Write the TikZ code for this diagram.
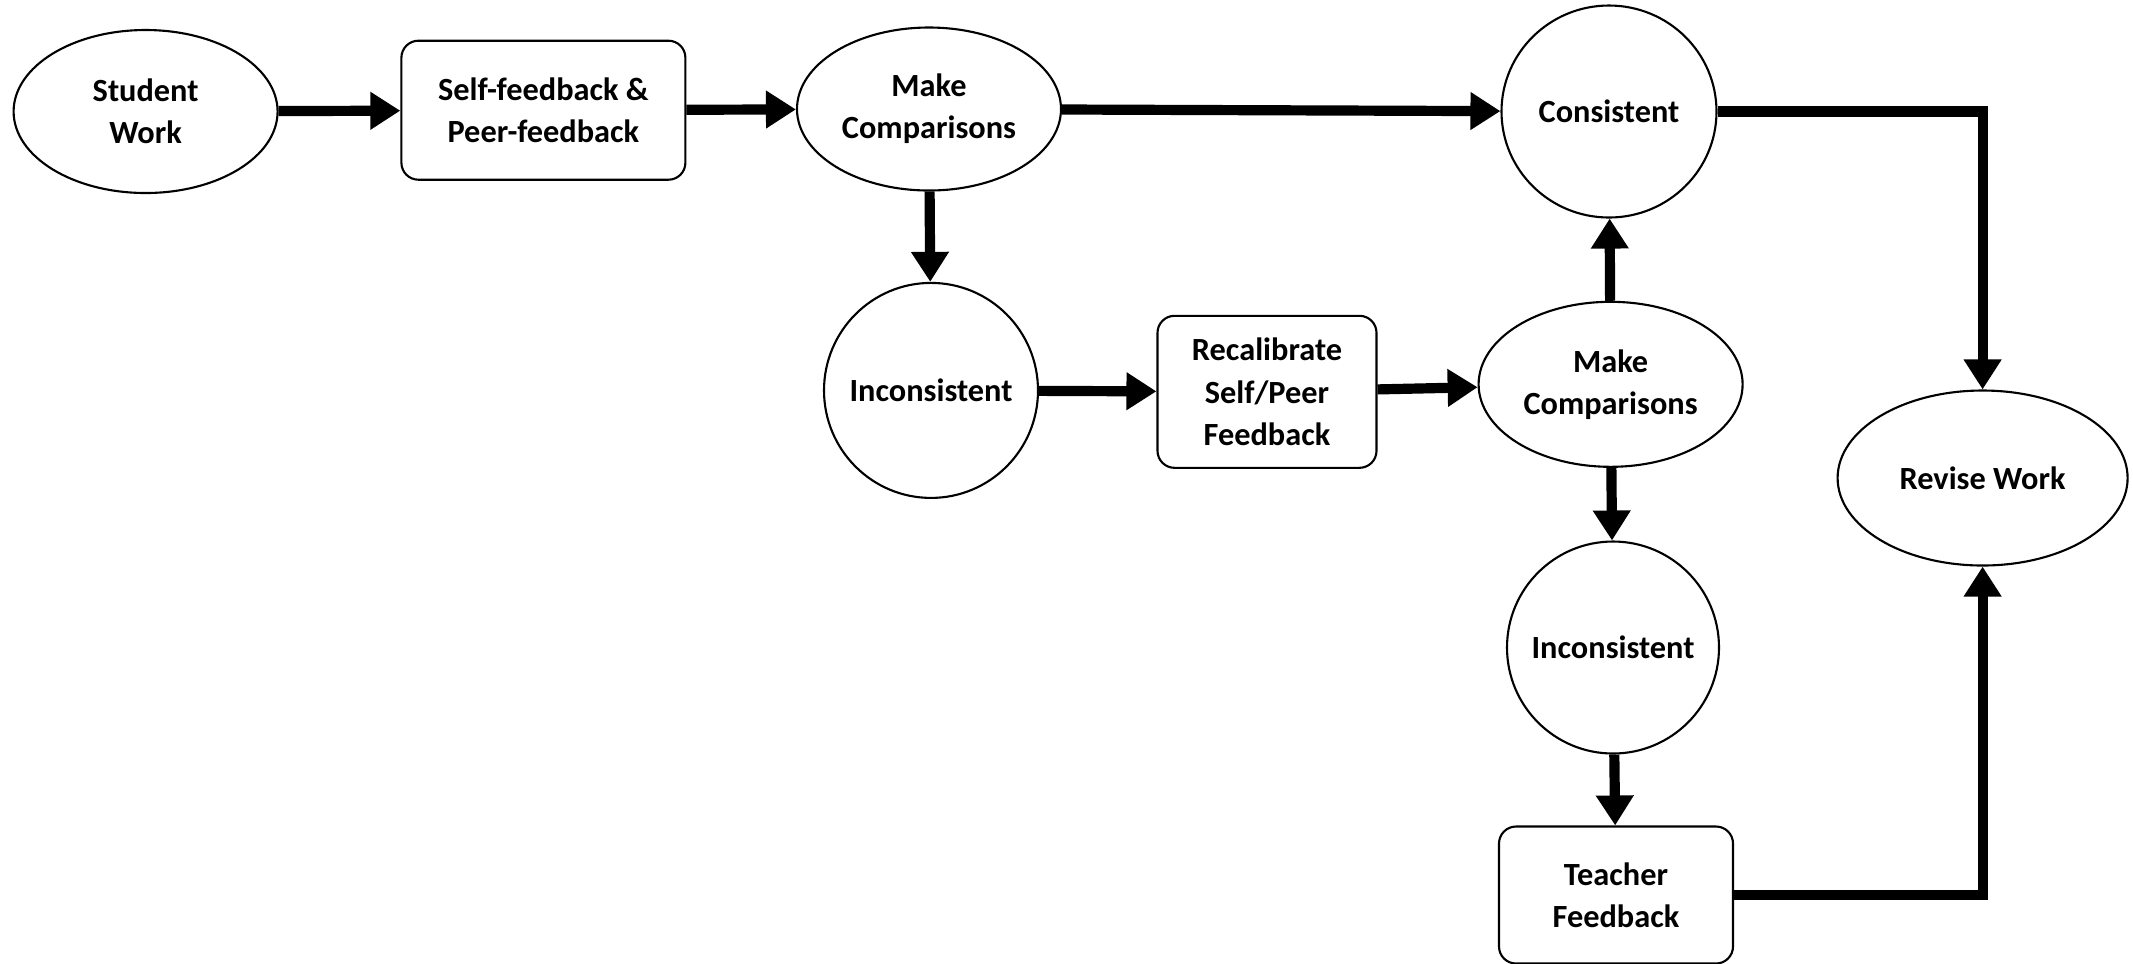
\documentclass[tikz,border=0pt]{standalone}
\usepackage{fontspec}
\setmainfont{Carlito}
\usepackage{tikz}
\usetikzlibrary{arrows}
\usetikzlibrary {arrows.meta}
\usetikzlibrary{shapes.geometric,positioning}

\begin{document}
\begin{tikzpicture}[font=\fontsize{9.2}{12}\selectfont\bfseries]
		\useasboundingbox (0,0) rectangle (21.33,-9.63);
		\tikzset{oval/.style={ellipse,draw,line width=0.6pt,inner sep=0pt,inner xsep=-0.1cm,align=center},
			box/.style={rectangle,rounded corners=0.17cm,draw,line width=0.6pt,inner sep=0pt,align=center}}

		\begin{scope}
			\node[oval,minimum width=2.64cm,minimum height=1.63cm] (A) at (1.456,-1.115) {Student\\Work};
			\node[box,minimum width=2.84cm,minimum height=1.39cm] (B) at (5.434,-1.102) {Self-feedback \&\\Peer-feedback};
			\node[oval,minimum width=2.64cm,minimum height=1.63cm] (C) at (9.29,-1.09) {Make\\Comparisons};
			\node[oval,minimum width=2.15cm,minimum height=2.12cm] (D) at (16.09,-1.115) {Consistent};
			\node[oval,minimum width=2.14cm,minimum height=2.15cm] (E) at (9.31,-3.904) {Inconsistent};
			\node[box,minimum width=2.19cm,minimum height=1.52cm] (F) at (12.67,-3.918) {Recalibrate\\Self/Peer\\Feedback};
			\node[oval,minimum width=2.64cm,minimum height=1.65cm] (G) at (16.106,-3.843) {Make\\Comparisons};
			\node[oval,minimum width=2.12cm,minimum height=2.12cm] (H) at (16.13,-6.475) {Inconsistent};
			\node[box,minimum width=2.34cm,minimum height=1.37cm] (I) at (16.16,-8.95) {Teacher\\Feedback};
			\node[oval,minimum width=2.90cm,minimum height=1.75cm] (J) at (19.826,-4.78) {Revise Work};
		\end{scope}

		\begin{scope}[>={Triangle[length=0.3cm,width=0.36cm]},line width=2.9pt]
			\draw[->] (A) -- (B);
			\draw[->] (B) -- (C);
			\draw[->] (C) -- (D);
			\draw[->] (D) -| (J);

			\draw[->] (C) -- (E);
			\draw[->] (E) -- (F);
			\draw[->] (F) -- (G);
			\draw[->] (G) -- (D);

			\draw[->] (G) -- (H);
			\draw[->] (H) -- (I);
			\draw[->] (I) -| (J);
		\end{scope}
	\end{tikzpicture}
\end{document}
